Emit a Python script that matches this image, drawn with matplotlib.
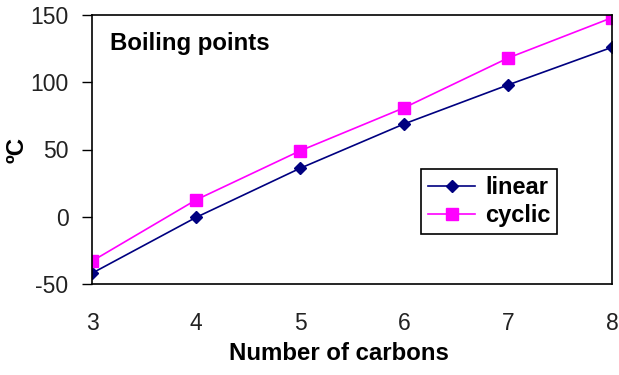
import matplotlib
matplotlib.use("Agg")
import matplotlib.pyplot as plt

carbons = [3, 4, 5, 6, 7, 8]
linear = [-42, -0.5, 36, 69, 98, 126]
cyclic = [-33, 12.5, 49, 81, 118, 148]
yticks = [-50, 0, 50, 100, 150]

plt.rcParams['font.family'] = ['Liberation Sans', 'DejaVu Sans']
plt.rcParams['axes.unicode_minus'] = False

fig = plt.figure(figsize=(6.19, 3.75), dpi=100)
ax = fig.add_axes([92/619, 1-284/375, 520/619, 269/375])

ax.plot(carbons, linear, color='#000080', marker='D', markersize=6.5, linewidth=1.2, label='linear')
ax.plot(carbons, cyclic, color='#FF00FF', marker='s', markersize=8, linewidth=1.2, label='cyclic')

ax.set_xlim(3, 8)
ax.set_ylim(-50, 150)
ax.set_yticks(yticks)
ax.set_xticks(carbons)
ax.tick_params(axis='y', direction='out', length=7, width=1, pad=10, labelsize=16.5, labelcolor='#222222')
ax.tick_params(axis='x', length=0, pad=20, labelsize=16.5, labelcolor='#222222')
for s in ax.spines.values():
    s.set_linewidth(1.2)
    s.set_color('black')

ax.set_xlabel('Number of carbons', fontsize=17.3, fontweight='bold')
ax.xaxis.set_label_coords(0.475, -0.215)
fig.text(17/619, 1-150/375, 'ºC', rotation=90, ha='center', va='center',
         fontsize=17.3, fontweight='bold')

ax.text(0.035, 0.87, 'Boiling points', transform=ax.transAxes, fontsize=17.3,
        fontweight='bold', va='baseline', ha='left')

leg = ax.legend(loc='upper left', bbox_to_anchor=(0.633, 0.4275), borderaxespad=0,
                fancybox=False, framealpha=1, edgecolor='black',
                prop={'weight': 'bold', 'size': 17}, handlelength=2.0,
                handletextpad=0.4, borderpad=0.3, labelspacing=0.2)
leg.get_frame().set_linewidth(1.2)

fig.savefig('out.png', dpi=100)
